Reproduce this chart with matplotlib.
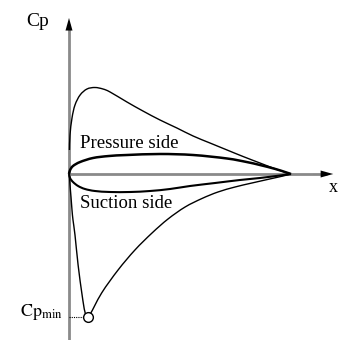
import numpy as np
import matplotlib
matplotlib.use("Agg")
import matplotlib.pyplot as plt
from matplotlib.path import Path
from matplotlib.patches import PathPatch

plt.rcParams['font.family'] = ['Liberation Serif', 'DejaVu Serif']
plt.rcParams['mathtext.fontset'] = 'stix'

# --- data: chord position x/c and pressure coefficient (arbitrary scale) ---
outer_upper_x = [0.002, 0.0045, 0.0135, 0.027, 0.05, 0.081, 0.117, 0.153, 0.185, 0.261,
                 0.333, 0.41, 0.486, 0.559, 0.635, 0.712, 0.784, 0.86, 0.937, 1.0]
outer_upper_cp = [0.24, 0.39, 0.56, 0.69, 0.79, 0.85, 0.865, 0.85, 0.82, 0.72,
                  0.63, 0.54, 0.46, 0.38, 0.31, 0.24, 0.175, 0.11, 0.045, 0.0]

pressure_x = [0.0, 0.005, 0.018, 0.05, 0.108, 0.18, 0.261, 0.41, 0.559, 0.712,
              0.80, 0.86, 0.93, 0.977, 1.0]
pressure_cp = [0.0, 0.04, 0.08, 0.12, 0.16, 0.18, 0.19, 0.20, 0.19, 0.155,
               0.12, 0.09, 0.05, 0.017, 0.0]

suction_x = [0.0, 0.0045, 0.018, 0.041, 0.072, 0.117, 0.185, 0.275, 0.365, 0.455,
             0.545, 0.658, 0.77, 0.86, 0.95, 1.0]
suction_cp = [0.0, -0.04, -0.08, -0.12, -0.15, -0.17, -0.18, -0.18, -0.17, -0.15,
              -0.12, -0.09, -0.06, -0.04, -0.015, 0.0]

outer_lower_x = [0.002, 0.0045, 0.009, 0.0135, 0.018, 0.027, 0.041, 0.059, 0.072, 0.087,
                 0.147, 0.221, 0.297, 0.374, 0.446, 0.523, 0.599, 0.671, 0.748, 0.824,
                 0.914, 0.96, 1.0]
outer_lower_cp = [-0.02, -0.11, -0.23, -0.36, -0.46, -0.61, -0.91, -1.21, -1.38, -1.43,
                  -1.19, -0.96, -0.76, -0.59, -0.45, -0.33, -0.245, -0.18, -0.13, -0.09,
                  -0.045, -0.022, 0.0]

cp_min_x = 0.087
cp_min = -1.43


def smooth_path(xs, ys):
    """Catmull-Rom through the points, drawn as cubic Bezier segments."""
    p = np.column_stack([xs, ys])
    verts = [p[0]]
    codes = [Path.MOVETO]
    n = len(p)
    for i in range(n - 1):
        p0 = p[i - 1] if i > 0 else p[i]
        p1 = p[i]
        p2 = p[i + 1]
        p3 = p[i + 2] if i + 2 < n else p[i + 1]
        c1 = p1 + (p2 - p0) / 6.0
        c2 = p2 - (p3 - p1) / 6.0
        verts += [c1, c2, p2]
        codes += [Path.CURVE4] * 3
    return Path(verts, codes)


fig = plt.figure(figsize=(3.38, 3.40), dpi=100)
ax = fig.add_axes([0, 0, 1, 1])
ax.set_xlim(-0.3108, 1.2117)
ax.set_ylim(-1.66, 1.74)
ax.axis('off')

axis_gray = '#8a8a8a'
# axes lines
ax.plot([0, 0], [-1.66, 1.50], color=axis_gray, lw=2.0, solid_capstyle='butt', zorder=1)
ax.plot([0, 1.16], [0, 0], color=axis_gray, lw=2.0, solid_capstyle='butt', zorder=1)
ax.annotate('', xy=(0, 1.56), xytext=(0, 1.40),
            arrowprops=dict(arrowstyle='-|>,head_length=0.9,head_width=0.25',
                            color='black', lw=0.01, shrinkA=0, shrinkB=0))
ax.annotate('', xy=(1.19, 0), xytext=(1.10, 0),
            arrowprops=dict(arrowstyle='-|>,head_length=0.9,head_width=0.25',
                            color='black', lw=0.01, shrinkA=0, shrinkB=0))

# curves
for xs, ys, lw in [(outer_upper_x, outer_upper_cp, 1.0),
                   (pressure_x, pressure_cp, 1.8),
                   (suction_x, suction_cp, 1.5),
                   (outer_lower_x, outer_lower_cp, 1.0)]:
    ax.add_patch(PathPatch(smooth_path(xs, ys), facecolor='none',
                           edgecolor='black', lw=lw, zorder=3))

# Cp_min marker
ax.plot([0, cp_min_x - 0.014], [cp_min, cp_min], color='black', lw=0.8,
        linestyle=(0, (1, 1)), zorder=2)
ax.plot([cp_min_x], [cp_min], marker='o', ms=7, mfc='white', mec='black', mew=1.0, zorder=4)

# texts
ax.text(-0.14, 1.53, 'Cp', fontsize=14, ha='center', va='center')
ax.text(0.05, 0.31, 'Pressure side', fontsize=13.5, ha='left', va='center')
ax.text(0.05, -0.30, 'Suction side', fontsize=13.5, ha='left', va='center')
ax.text(-0.03, -1.38, r'$\mathrm{Cp}_{\mathrm{min}}$', fontsize=13, ha='right', va='center')
ax.text(1.171, -0.13, 'x', fontsize=13, ha='left', va='center')

fig.savefig('out.png', dpi=100)
